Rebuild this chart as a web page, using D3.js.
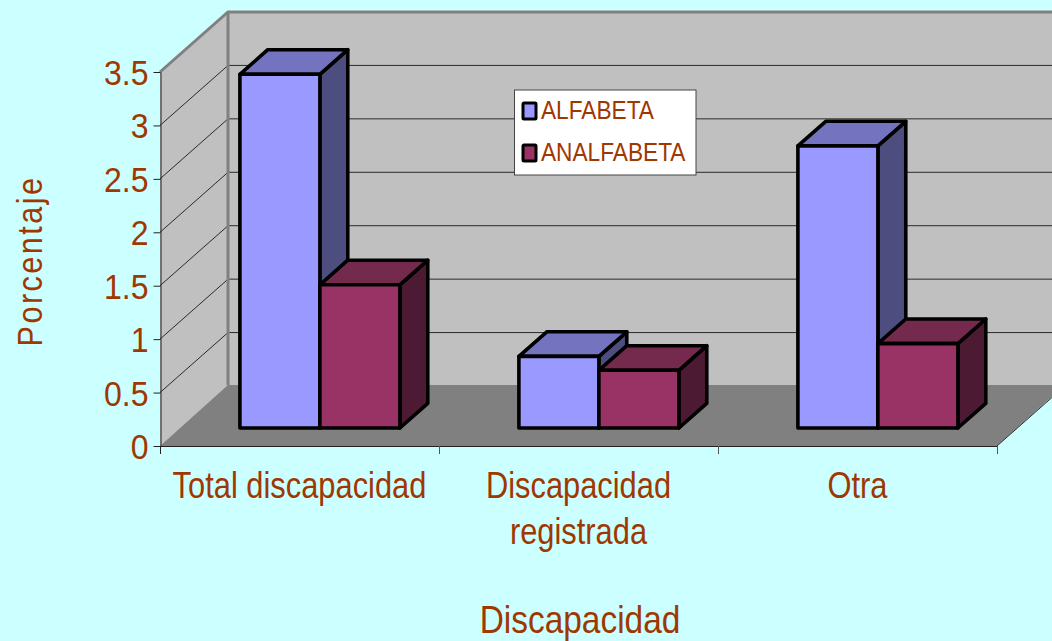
<!DOCTYPE html>
<html>
<head>
<meta charset="utf-8">
<script src="https://cdn.jsdelivr.net/npm/d3@7"></script>
<style>
html,body{margin:0;padding:0;background:#CCFFFF;overflow:hidden}
svg{display:block}
text{font-family:"Liberation Sans",Arial,sans-serif;fill:#9F3700}
</style>
</head>
<body>
<script>
const categories = [["Total discapacidad"], ["Discapacidad", "registrada"], ["Otra"]];
const seriesNames = ["ALFABETA", "ANALFABETA"];
const alfabeta = [3.31, 0.67, 2.64];
const analfabeta = [1.34, 0.54, 0.79];
const yTicks = [0, 0.5, 1, 1.5, 2, 2.5, 3, 3.5];
const xTitle = "Discapacidad";
const yTitle = "Porcentaje";

const W = 1052, H = 641;
const x0 = 160, x1 = 997, yB = 446, yT = 72;
const depthX = 68, depthY = 60;      // wall depth
const barFront = 0.3, barDepth = 0.41; // bar placement along the depth
const colors = [
  {front:"#9999FF", top:"#7373BF", side:"#4D4D80"},
  {front:"#993366", top:"#732A4D", side:"#4D1A33"}
];

const svg = d3.select("body").append("svg").attr("width", W).attr("height", H);
svg.append("rect").attr("width", W).attr("height", H).attr("fill", "#CCFFFF");

const x = d3.scaleBand().domain(d3.range(categories.length)).range([x0, x1]);
const y = d3.scaleLinear().domain([0, 3.5]).range([yB, yT]);
const inner = d3.scaleBand().domain(d3.range(seriesNames.length)).range([0, 160]);
const pts = a => a.map(p => p.join(",")).join(" ");

// walls and floor
const bx0 = x0 + depthX, bx1 = x1 + depthX;
svg.append("polygon").attr("points", pts([[bx0,y(3.5)-depthY],[bx1,y(3.5)-depthY],[bx1,yB-depthY],[bx0,yB-depthY]])).attr("fill", "#C0C0C0");
svg.append("polygon").attr("points", pts([[x0,y(3.5)],[bx0,y(3.5)-depthY],[bx0,yB-depthY],[x0,yB]])).attr("fill", "#C0C0C0");
svg.append("polygon").attr("points", pts([[x0,yB],[bx0,yB-depthY-1],[bx1,yB-depthY-1],[x1,yB]])).attr("fill", "#808080");

// gridlines
svg.append("g").selectAll("path").data(yTicks.filter(d => d > 0 && d < 3.5)).join("path")
  .attr("d", d => d3.line()([[x0, y(d)], [bx0, y(d) - depthY], [bx1, y(d) - depthY]]))
  .attr("fill", "none").attr("stroke", "#2a2a2a").attr("stroke-width", 1);

// wall edges
svg.append("path").attr("d", d3.line()([[x0,y(3.5)],[bx0,y(3.5)-depthY],[bx1,y(3.5)-depthY]])).attr("fill","none").attr("stroke","#808080").attr("stroke-width",3);
svg.append("line").attr("x1",bx0).attr("x2",bx0).attr("y1",y(3.5)-depthY).attr("y2",yB-depthY-1).attr("stroke","#808080").attr("stroke-width",3);
svg.append("line").attr("x1",x1).attr("y1",yB).attr("x2",bx1).attr("y2",yB-depthY).attr("stroke","#333").attr("stroke-width",1);

// axes
const axisY = d3.axisLeft(y).tickValues(yTicks).tickSize(7).tickSizeOuter(0).tickFormat(d => String(d));
const gy = svg.append("g").attr("transform", `translate(${x0 + 0.5},0)`).call(axisY);
gy.selectAll("path").attr("stroke", "#222");
gy.selectAll("line").attr("stroke", "#222");
gy.selectAll("text").remove();
gy.selectAll(".tick").append("text")
  .attr("text-anchor", "end").attr("font-size", 36)
  .attr("transform", "translate(-12,12.5) scale(0.89,1)")
  .text(d => String(d));

svg.append("line").attr("x1", x0).attr("x2", x1).attr("y1", yB + 0.5).attr("y2", yB + 0.5).attr("stroke", "#222");
const catTicks = d3.range(categories.length + 1).map(i => i < categories.length ? x(i) : x1);
svg.append("g").selectAll("line").data(catTicks).join("line")
  .attr("x1", d => d + 0.5).attr("x2", d => d + 0.5).attr("y1", yB).attr("y2", yB + 8)
  .attr("stroke", (d, i) => i ? "#555" : "#222");

// bars
const dbx = depthX * barDepth, dby = depthY * barDepth, fy = depthY * barFront;
const bars = [];
categories.forEach((c, ci) => {
  [alfabeta, analfabeta].forEach((s, si) => bars.push({ci, si, v: s[ci]}));
});
const gb = svg.append("g").attr("stroke", "#000").attr("stroke-width", 3.6).attr("stroke-linejoin", "round");
const bar = gb.selectAll("g").data(bars).join("g");
const bl = d => x(d.ci) + depthX * barFront + (x.bandwidth() - inner.range()[1]) / 2 + inner(d.si);
const barTop = d => y(d.v) - fy;
const w = inner.bandwidth();
bar.append("polygon").attr("fill", d => colors[d.si].side)
  .attr("points", d => pts([[bl(d)+w, barTop(d)], [bl(d)+w+dbx, barTop(d)-dby], [bl(d)+w+dbx, yB-fy-dby], [bl(d)+w, yB-fy]]));
bar.append("polygon").attr("fill", d => colors[d.si].top)
  .attr("points", d => pts([[bl(d), barTop(d)], [bl(d)+dbx, barTop(d)-dby], [bl(d)+w+dbx, barTop(d)-dby], [bl(d)+w, barTop(d)]]));
bar.append("rect").attr("fill", d => colors[d.si].front)
  .attr("x", bl).attr("y", barTop).attr("width", w).attr("height", d => yB - fy - barTop(d));

// category labels
const labels = svg.append("g");
categories.forEach((lines, i) => lines.forEach((t, j) => {
  labels.append("text").attr("text-anchor", "middle").attr("font-size", 36)
    .attr("transform", `translate(${x(i) + x.bandwidth() / 2},${498 + j * 46}) scale(0.857,1)`).text(t);
}));

// axis titles
svg.append("text").attr("text-anchor", "middle").attr("font-size", 38)
  .attr("transform", "translate(580,633) scale(0.88,1)").text(xTitle);
svg.append("text").attr("text-anchor", "middle").attr("font-size", 36).attr("letter-spacing", 2.9)
  .attr("transform", "translate(42,261) rotate(-90) scale(0.85,1)").text(yTitle);

// legend
svg.append("rect").attr("x", 514.5).attr("y", 90).attr("width", 181.5).attr("height", 85)
  .attr("fill", "#fff").attr("stroke", "#444").attr("stroke-width", 1);
const lg = svg.append("g").selectAll("g").data(seriesNames).join("g")
  .attr("transform", (d, i) => `translate(0,${102 + i * 42})`);
lg.append("rect").attr("x", 523).attr("y", 1).attr("width", 13).attr("height", 16).attr("rx", 1)
  .attr("fill", (d, i) => colors[i].front).attr("stroke", "#000").attr("stroke-width", 3);
lg.append("text").attr("font-size", 25)
  .attr("transform", "translate(541,17) scale(0.907,1)").text(d => d);
</script>
</body>
</html>
